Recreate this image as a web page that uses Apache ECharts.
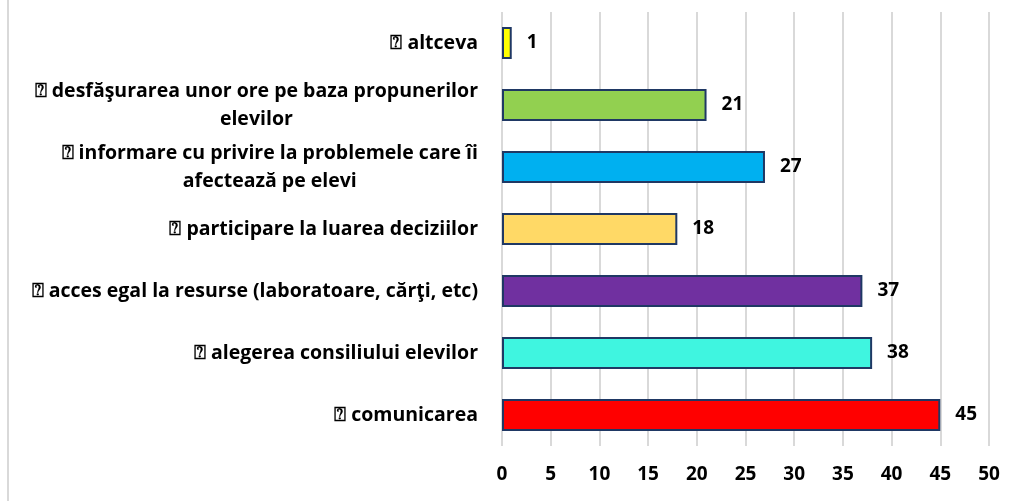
<!DOCTYPE html>
<html>
<head>
<meta charset="utf-8">
<script src="https://cdn.jsdelivr.net/npm/echarts@6/dist/echarts.min.js"></script>
<style>
  html, body { margin: 0; padding: 0; background: #fff; }
  #chart { width: 1018px; height: 501px; }
  #frame { position: absolute; left: 7px; top: 0; width: 0; height: 501px; border-left: 2px solid #d9d9d9; }
</style>
</head>
<body>
<div id="frame"></div>
<div id="chart"></div>
<script>
// categories from bottom to top
const categories = [
  '⍰ comunicarea',
  '⍰ alegerea consiliului elevilor',
  '⍰ acces egal la resurse (laboratoare, cărţi, etc)',
  '⍰ participare la luarea deciziilor',
  '⍰ informare cu privire la problemele care îi\nafectează pe elevi',
  '⍰ desfăşurarea unor ore pe baza propunerilor\nelevilor',
  '⍰ altceva'
];
const values = [45, 38, 37, 18, 27, 21, 1];
const barColors = ['#ff0000', '#3ff5e0', '#7030a0', '#ffd966', '#00b0f0', '#92d050', '#ffff00'];

const font = 'Open Sans';
const chart = echarts.init(document.getElementById('chart'));
chart.setOption({
  animation: false,
  grid: { left: 502, right: 29, top: 12, bottom: 55 },
  xAxis: {
    type: 'value',
    min: 0,
    max: 50,
    interval: 5,
    axisLine: { show: false },
    axisTick: { show: false },
    splitLine: { lineStyle: { color: '#d9d9d9', width: 2 } },
    axisLabel: { color: '#000', fontWeight: 'bold', fontSize: 19, fontFamily: font, margin: 19 }
  },
  yAxis: {
    type: 'category',
    data: categories,
    axisLine: { show: false },
    axisTick: { show: false },
    axisLabel: {
      margin: 24,
      formatter: function (v) {
        const lines = v.split('\n');
        if (lines.length === 1) return '{a|' + v + '}';
        return '{a|' + lines[0] + '}\n{c|' + lines[1] + '}';
      },
      rich: {
        a: { color: '#000', fontWeight: 'bold', fontSize: 19.5, fontFamily: font, lineHeight: 28 },
        c: { color: '#000', fontWeight: 'bold', fontSize: 19.5, fontFamily: font, lineHeight: 28, align: 'center' }
      }
    }
  },
  series: [{
    type: 'bar',
    data: values.map((v, i) => ({ value: v, itemStyle: { color: barColors[i] } })),
    barWidth: '52%',
    itemStyle: { borderColor: '#1f3864', borderWidth: 2 },
    label: {
      show: true,
      position: 'right',
      distance: 15,
      color: '#000',
      fontWeight: 'bold',
      fontSize: 19,
      fontFamily: font
    }
  }]
});
</script>
</body>
</html>
